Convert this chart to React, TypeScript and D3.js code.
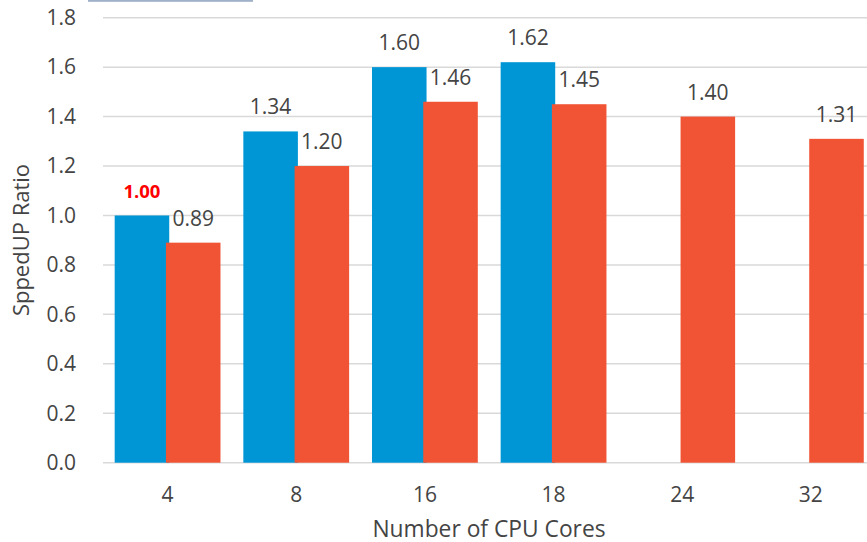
import React from "react";
import * as d3 from "d3";

const categories = ["4", "8", "16", "18", "24", "32"];
const seriesA: (number | null)[] = [1.0, 1.34, 1.6, 1.62, null, null];
const seriesB: (number | null)[] = [0.89, 1.2, 1.46, 1.45, 1.4, 1.31];
const yTicks = [0, 0.2, 0.4, 0.6, 0.8, 1.0, 1.2, 1.4, 1.6, 1.8];

const W = 867;
const H = 542;
const FONT = "'Open Sans', 'Noto Sans', sans-serif";
const TEXT = "#444444";
const BLUE = "#0096d6";
const RED = "#f05434";

export default function App() {
  const y = d3.scaleLinear().domain([0, 1.8]).range([462.7, 17.7]);
  const x = d3.scaleBand<string>().domain(categories).range([103.25, 875.2]).padding(0);
  const bw = x.bandwidth();
  const barW = bw * 0.424;
  const overlap = 3.3;
  const center = (c: string) => (x(c) as number) + bw / 2;
  const blueX = (c: string) => center(c) - barW + overlap / 2;
  const redX = (c: string) => center(c) - overlap / 2;

  return (
    <svg width={W} height={H} style={{ position: "absolute", left: 0, top: 0, background: "#fff" }} fontFamily={FONT}>
      <rect x={88} y={0} width={165} height={1.8} fill="#9fb0c8" />
      {yTicks.map((t) => (
        <g key={t}>
          <line x1={103} x2={W + 10} y1={y(t)} y2={y(t)} stroke="#d9d9d9" strokeWidth={1.5} />
          <text x={76} y={y(t)} dy="0.35em" textAnchor="end" fontSize={21} fill={TEXT}>
            {d3.format(".1f")(t)}
          </text>
        </g>
      ))}
      {categories.map((c, i) => {
        const a = seriesA[i];
        const b = seriesB[i];
        return (
          <g key={c}>
            {a != null && (
              <rect x={blueX(c)} y={y(a)} width={barW} height={y(0) - y(a)} fill={BLUE} />
            )}
            {b != null && (
              <rect x={redX(c)} y={y(b)} width={barW} height={y(0) - y(b)} fill={RED} />
            )}
            {a != null && (
              <text
                x={blueX(c) + barW / 2}
                y={y(a) - 17}
                textAnchor="middle"
                fontSize={i === 0 ? 18.5 : 21}
                fontWeight={i === 0 ? 700 : 400}
                fill={i === 0 ? "#ff0000" : TEXT}
              >
                {d3.format(".2f")(a)}
              </text>
            )}
            {b != null && (
              <text x={redX(c) + barW / 2} y={y(b) - 17} textAnchor="middle" fontSize={21} fill={TEXT}>
                {d3.format(".2f")(b)}
              </text>
            )}
            <text x={center(c)} y={501.7} textAnchor="middle" fontSize={21} fill={TEXT}>
              {c}
            </text>
          </g>
        );
      })}
      <text x={489} y={536.5} textAnchor="middle" fontSize={22.8} fill={TEXT}>
        Number of CPU Cores
      </text>
      <text transform="translate(29,240) rotate(-90)" textAnchor="middle" fontSize={22} fill={TEXT}>
        SppedUP Ratio
      </text>
    </svg>
  );
}
